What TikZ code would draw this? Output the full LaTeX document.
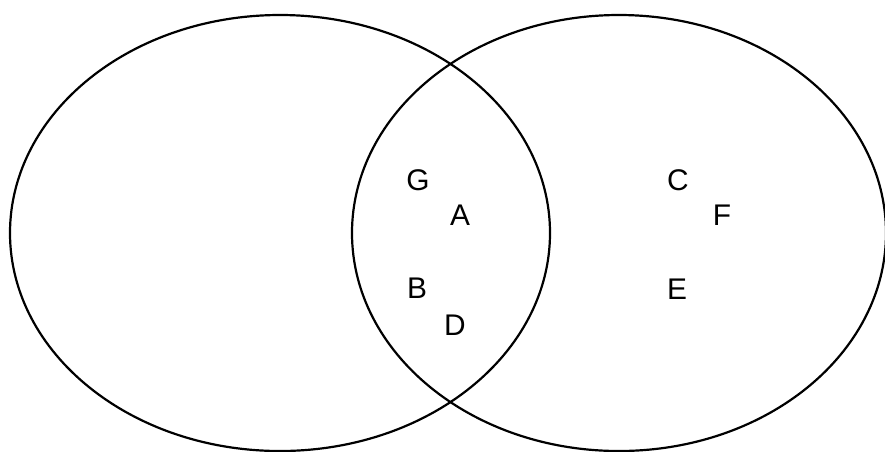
\documentclass[tikz,border=0pt]{standalone}
\usepackage{fontspec}
\setmainfont{Liberation Sans}
\usetikzlibrary{positioning}

\begin{document}
\begin{tikzpicture}[x=0.02cm, y=-0.02cm,
  setline/.style={draw=black, line width=1.25pt},
  elem/.style={font=\fontsize{17}{19}\selectfont, inner sep=0pt}]
  % Canvas
  \useasboundingbox (0,0) rectangle (885,451);

  % Sets
  \draw[setline] (280,233) ellipse [x radius=270, y radius=218];
  \draw[setline] (619,233) ellipse [x radius=267, y radius=218];

  % Elements in both sets
  \node[elem] (g) at (418,180) {G};
  \node[elem] (a) at (460,215) {A};
  \node[elem] (b) at (417,288) {B};
  \node[elem] (d) at (455,325) {D};

  % Elements in right set only
  \node[elem] (c) at (678,180) {C};
  \node[elem] (f) at (722,215) {F};
  \node[elem] (e) at (677,289) {E};
\end{tikzpicture}
\end{document}
